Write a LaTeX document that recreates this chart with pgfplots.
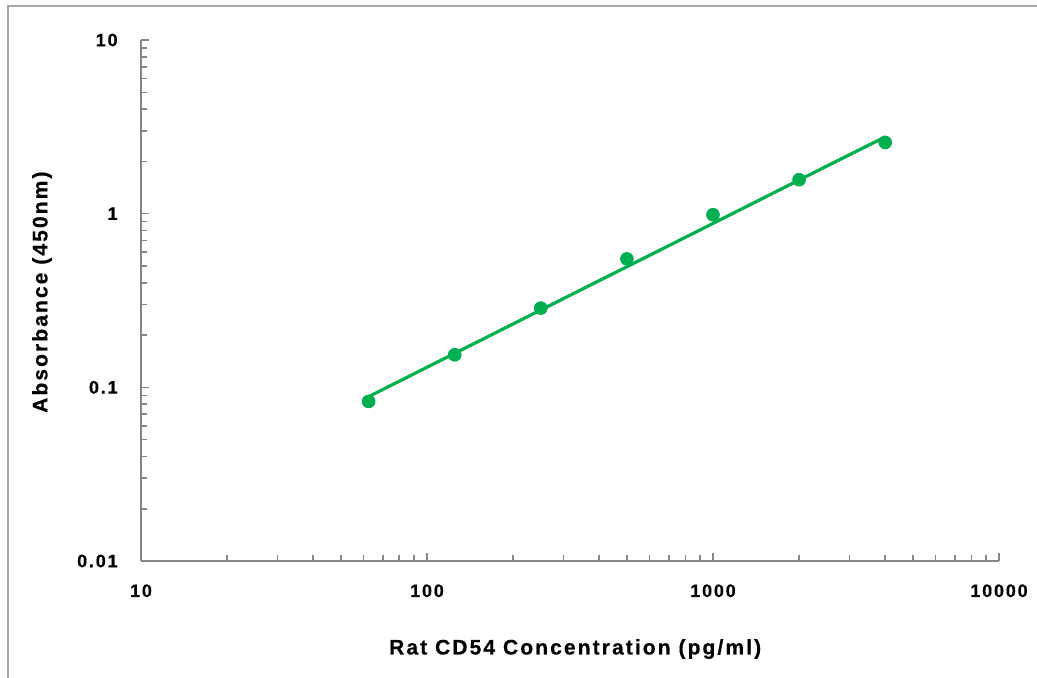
\documentclass[border=0pt]{standalone}
\usepackage{fontspec}
\setmainfont{Liberation Sans}[LetterSpace=10, BoldFeatures={FakeBold=0.5}]
\usepackage{pgfplots}
\pgfplotsset{compat=1.18}
\definecolor{curvegreen}{HTML}{00B050}
\definecolor{axisgray}{HTML}{868686}
\definecolor{framegray}{HTML}{A6A6A6}

\begin{document}
\begin{tikzpicture}
\begin{loglogaxis}[
    scale only axis,
    width=429pt,
    height=260.5pt,
    xmin=10, xmax=10000,
    ymin=0.01, ymax=10,
    axis x line=bottom,
    axis y line=left,
    axis line style={axisgray, line width=1pt, -},
    tick align=inside,
    major tick length=4pt,
    minor tick length=3pt,
    every tick/.style={axisgray, line width=0.8pt},
    xtick={10,100,1000,10000},
    xticklabels={10,100,1000,10000},
    ytick={0.01,0.1,1,10},
    yticklabels={0.01,0.1,1,10},
    tick label style={font=\fontsize{9}{11}\selectfont\bfseries, text=black},
    xticklabel style={anchor=north, inner sep=0pt, yshift=-11.5pt},
    yticklabel style={anchor=east, inner sep=0pt, xshift=-11.5pt},
    every axis x label/.style={at={(axis description cs:0.506,-0.169)}, anchor=center},
    every axis y label/.style={at={(axis description cs:-0.1154,0.516)}, anchor=center, rotate=90},
    label style={font=\fontsize{10.5}{12}\selectfont\bfseries},
    xlabel={Rat CD54 Concentration (pg/ml)},
    ylabel={Absorbance (450nm)},
    clip=false,
]
% fitted curve
\addplot[curvegreen, line width=1.6pt, no markers] coordinates {
    (62.5,0.0884) (125,0.157) (250,0.279) (500,0.495)
    (1000,0.879) (2000,1.563) (4000,2.77)};
% standards
\addplot[only marks, mark=*, mark size=3.2pt, curvegreen] coordinates {
    (62.5,0.083) (125,0.154) (250,0.286) (500,0.549)
    (1000,0.986) (2000,1.57) (4000,2.57)};
\end{loglogaxis}
\draw[framegray, line width=1pt] (-66.5pt,-60pt) -- (-66.5pt,277.75pt) -- (450pt,277.75pt);
\pgfresetboundingbox
\useasboundingbox (-70.5pt,-58pt) rectangle (448pt,280.5pt);
\end{tikzpicture}
\end{document}
